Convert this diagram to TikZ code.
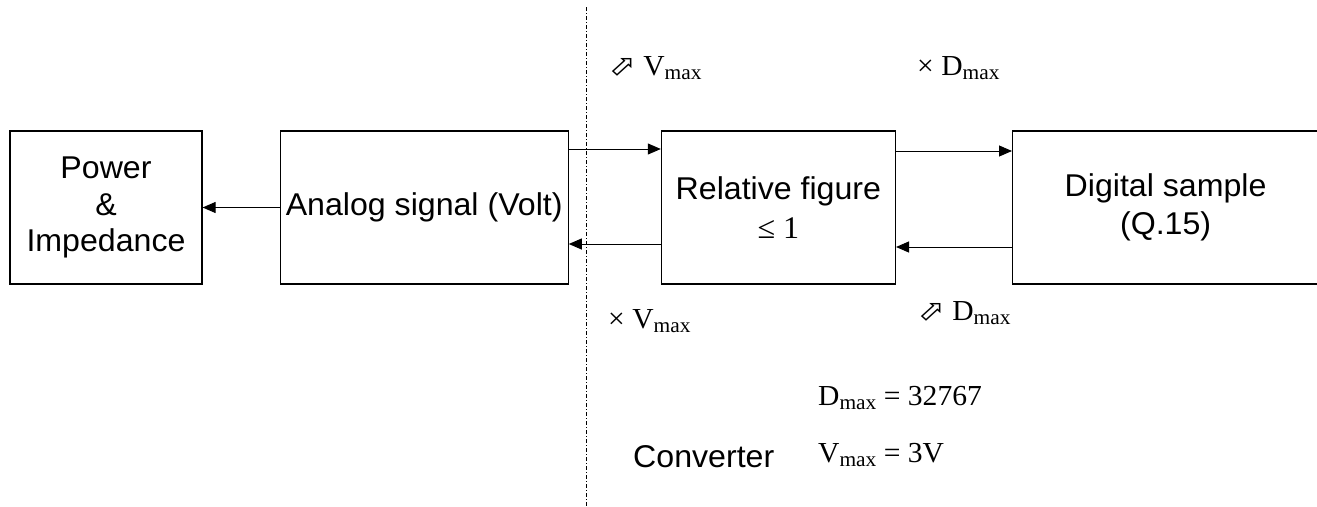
\documentclass[tikz,border=0pt]{standalone}
\usepackage{fontspec}
\setmainfont{Liberation Serif}[FakeStretch=1.02]
\setsansfont{Liberation Sans}[FakeStretch=1.02]
\newfontfamily\symfont{DejaVu Sans}[FakeStretch=1.1]
\usepackage{tikz}
\usetikzlibrary{arrows.meta, positioning}

\newcommand{\lowsub}[1]{\raisebox{-4pt}{\fontsize{21}{21}\selectfont #1}}
\newcommand{\divsym}{{\symfont\fontsize{29}{29}\selectfont ⬀}}

\begin{document}
\begin{tikzpicture}[
    x=1pt, y=-1pt,
    block/.style={rectangle, draw, line width=1.2pt, minimum height=153pt,
                  align=center, font=\sffamily\fontsize{31.5}{36.5}\selectfont},
    arrow/.style={-{Triangle[length=13pt, width=11pt]}, line width=1pt},
    divider/.style={line width=0.8pt, dash pattern=on 4pt off 2pt on 1pt off 2pt},
    lbl/.style={inner sep=0, anchor=base west, font=\rmfamily\fontsize{29}{32}\selectfont}
]
\useasboundingbox (0,0) rectangle (1317,506);

\node[block, minimum width=192pt] (pow) at (106,207.5) {Power\\\&\\Impedance};
\node[block, minimum width=288pt, right=77pt of pow] (anl) {Analog signal (Volt)};
\node[block, minimum width=234pt, right=92pt of anl] (rel) {Relative figure\\[3pt]{\rmfamily ≤ 1}};
\node[block, minimum width=306pt, right=116pt of rel] (dig) {Digital sample\\[1pt](Q.15)};

\draw[arrow] (anl) -- (pow);
\foreach \from/\fa/\to/\ta/\dy in {anl/east/rel/west/58.5, rel/west/anl/east/-36.5,
                                    rel/east/dig/west/56.5, dig/west/rel/east/-39.5}
    \draw[arrow] ([yshift=\dy pt]\from.\fa) -- ([yshift=\dy pt]\to.\ta);

% converter boundary
\coordinate (bndtop) at (586,7);
\coordinate (bndbot) at (586,506);
\draw[divider] (bndtop) -- (bndbot);

\node[lbl] (divv) at (609,75)  {\divsym{} V\lowsub{max}};
\node[lbl] (muld) at (917,75)  {× D\lowsub{max}};
\node[lbl] (mulv) at (608,328) {× V\lowsub{max}};
\node[lbl] (divd) at (918,320) {\divsym{} D\lowsub{max}};
\node[lbl] (dmax) at (818,405) {D\lowsub{max} = 32767};
\node[lbl] (vmax) at (818,462) {V\lowsub{max} = 3V};
\node[lbl, font=\sffamily\fontsize{31.5}{32}\selectfont] (conv) at (633,467) {Converter};
\end{tikzpicture}
\end{document}
